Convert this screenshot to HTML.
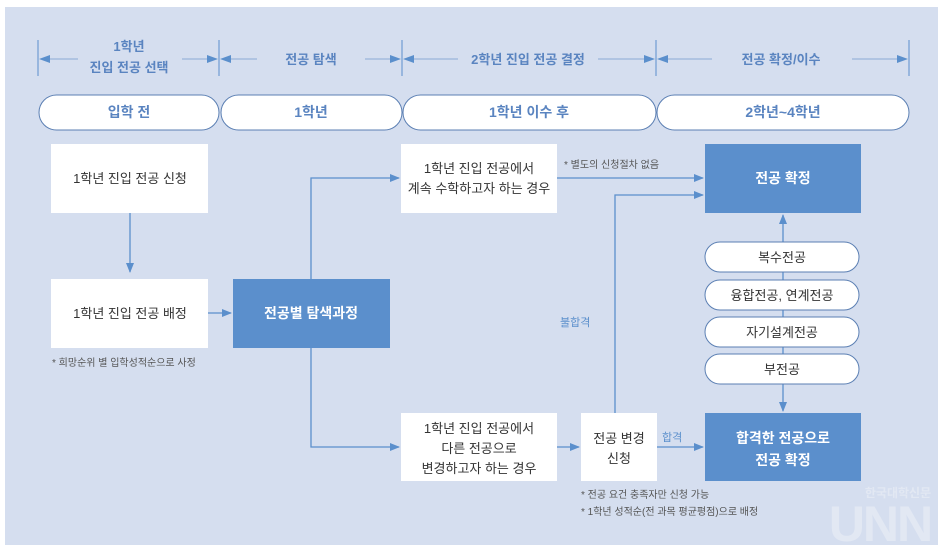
<!DOCTYPE html>
<html><head><meta charset="utf-8"><style>
html,body{margin:0;padding:0;background:#fff;}
svg{display:block;font-family:"Liberation Sans","Noto Sans CJK KR",sans-serif;}
</style></head><body>
<svg width="948" height="557" viewBox="0 0 948 557" xmlns="http://www.w3.org/2000/svg">
<defs>
<marker id="a" markerWidth="10" markerHeight="8" refX="9" refY="4" orient="auto" markerUnits="userSpaceOnUse"><path d="M0,0 L10,4 L0,8 z" fill="#5b8fcc"/></marker>
</defs>
<rect x="5" y="7" width="933" height="538" fill="#d5deef"/>
<!-- dimension lines -->
<g stroke="#5b8fcc" stroke-width="1">
<line x1="38" y1="40" x2="38" y2="76"/><line x1="219" y1="40" x2="219" y2="76"/>
<line x1="402" y1="40" x2="402" y2="76"/><line x1="656" y1="40" x2="656" y2="76"/>
<line x1="909" y1="40" x2="909" y2="76"/>
</g>
<g stroke="#8aa9d6" stroke-width="1">
<line x1="46" y1="59" x2="78" y2="59"/><line x1="182" y1="59" x2="210" y2="59"/>
<line x1="228" y1="59" x2="257" y2="59"/><line x1="365" y1="59" x2="393" y2="59"/>
<line x1="411" y1="59" x2="458" y2="59"/><line x1="598" y1="59" x2="647" y2="59"/>
<line x1="665" y1="59" x2="712" y2="59"/><line x1="852" y1="59" x2="900" y2="59"/>
</g>
<g fill="#5b8fcc">
<path d="M39,59 L50,55 L50,63z"/><path d="M218,59 L207,55 L207,63z"/>
<path d="M220,59 L231,55 L231,63z"/><path d="M401,59 L390,55 L390,63z"/>
<path d="M403,59 L414,55 L414,63z"/><path d="M655,59 L644,55 L644,63z"/>
<path d="M657,59 L668,55 L668,63z"/><path d="M908,59 L897,55 L897,63z"/>
</g>
<g fill="#5a84c0" font-size="13" text-anchor="middle" font-weight="bold">
<text x="129" y="51">1학년</text><text x="129" y="72">진입 전공 선택</text>
<text x="311" y="64">전공 탐색</text>
<text x="528" y="64">2학년 진입 전공 결정</text>
<text x="781" y="64">전공 확정/이수</text>
</g>
<!-- pills -->
<g fill="#fff" stroke="#5b7fb3" stroke-width="1">
<rect x="39" y="95" width="180" height="35" rx="17.5"/>
<rect x="221" y="95" width="181" height="35" rx="17.5"/>
<rect x="403" y="95" width="253" height="35" rx="17.5"/>
<rect x="657" y="95" width="252" height="35" rx="17.5"/>
</g>
<g fill="#5a84c0" font-size="14" font-weight="bold" text-anchor="middle">
<text x="129" y="117">입학 전</text><text x="311" y="117">1학년</text>
<text x="529" y="117">1학년 이수 후</text><text x="783" y="117">2학년~4학년</text>
</g>
<!-- boxes -->
<g fill="#fff">
<rect x="51" y="144" width="157" height="69"/>
<rect x="51" y="279" width="157" height="69"/>
<rect x="401" y="144" width="156" height="69"/>
<rect x="401" y="413" width="156" height="68"/>
<rect x="581" y="413" width="76" height="68"/>
</g>
<g fill="#5b8fcc">
<rect x="233" y="279" width="157" height="69"/>
<rect x="705" y="144" width="156" height="69"/>
<rect x="705" y="413" width="156" height="68"/>
</g>
<!-- connectors -->
<g stroke="#5b8fcc" stroke-width="1.3" fill="none">
<line x1="130" y1="213" x2="130" y2="272" marker-end="url(#a)"/>
<line x1="208" y1="313" x2="231" y2="313" marker-end="url(#a)"/>
<polyline points="311,279 311,178 399,178" marker-end="url(#a)"/>
<polyline points="311,348 311,447 399,447" marker-end="url(#a)"/>
<line x1="557" y1="178" x2="703" y2="178" marker-end="url(#a)"/>
<polyline points="615,413 615,195 703,195" marker-end="url(#a)"/>
<line x1="557" y1="447" x2="579" y2="447" marker-end="url(#a)"/>
<line x1="657" y1="447" x2="703" y2="447" marker-end="url(#a)"/>
<line x1="783" y1="243" x2="783" y2="215" marker-end="url(#a)"/>
<line x1="783" y1="243" x2="783" y2="384"/>
<line x1="783" y1="384" x2="783" y2="411" marker-end="url(#a)"/>
</g>
<g fill="#fff" stroke="#5b7fb3" stroke-width="1">
<rect x="705" y="242" width="154" height="30" rx="15"/>
<rect x="705" y="280" width="154" height="30" rx="15"/>
<rect x="705" y="317" width="154" height="30" rx="15"/>
<rect x="705" y="354" width="154" height="30" rx="15"/>
</g>
<g fill="#333" font-size="13" text-anchor="middle">
<text x="782" y="262">복수전공</text><text x="782" y="300">융합전공, 연계전공</text>
<text x="782" y="337">자기설계전공</text><text x="782" y="374">부전공</text>
<text x="130" y="183">1학년 진입 전공 신청</text>
<text x="130" y="318">1학년 진입 전공 배정</text>
<text x="479" y="173">1학년 진입 전공에서</text>
<text x="479" y="193">계속 수학하고자 하는 경우</text>
<text x="479" y="433">1학년 진입 전공에서</text>
<text x="479" y="453">다른 전공으로</text>
<text x="479" y="473">변경하고자 하는 경우</text>
<text x="619" y="443">전공 변경</text>
<text x="619" y="463">신청</text>
</g>
<g fill="#fff" font-size="14" font-weight="bold" text-anchor="middle">
<text x="311" y="318">전공별 탐색과정</text>
<text x="783" y="183">전공 확정</text>
<text x="783" y="443">합격한 전공으로</text>
<text x="783" y="465">전공 확정</text>
</g>
<g fill="#555" font-size="10">
<text x="52" y="366">* 희망순위 별 입학성적순으로 사정</text>
<text x="564" y="168">* 별도의 신청절차 없음</text>
<text x="581" y="498">* 전공 요건 충족자만 신청 가능</text>
<text x="581" y="515">* 1학년 성적순(전 과목 평균평점)으로 배정</text>
</g>
<g fill="#5b8fcc" font-size="11">
<text x="560" y="326">불합격</text>
<text x="662" y="441">합격</text>
</g>
<!-- watermark -->
<g opacity="0.55">
<text x="898" y="497" fill="#eef1f7" font-size="12" font-weight="bold" text-anchor="middle">한국대학신문</text>
<text x="880" y="541" fill="#eef1f7" font-size="50" font-weight="bold" text-anchor="middle" letter-spacing="-2">UNN</text>
</g>
</svg>
</body></html>
